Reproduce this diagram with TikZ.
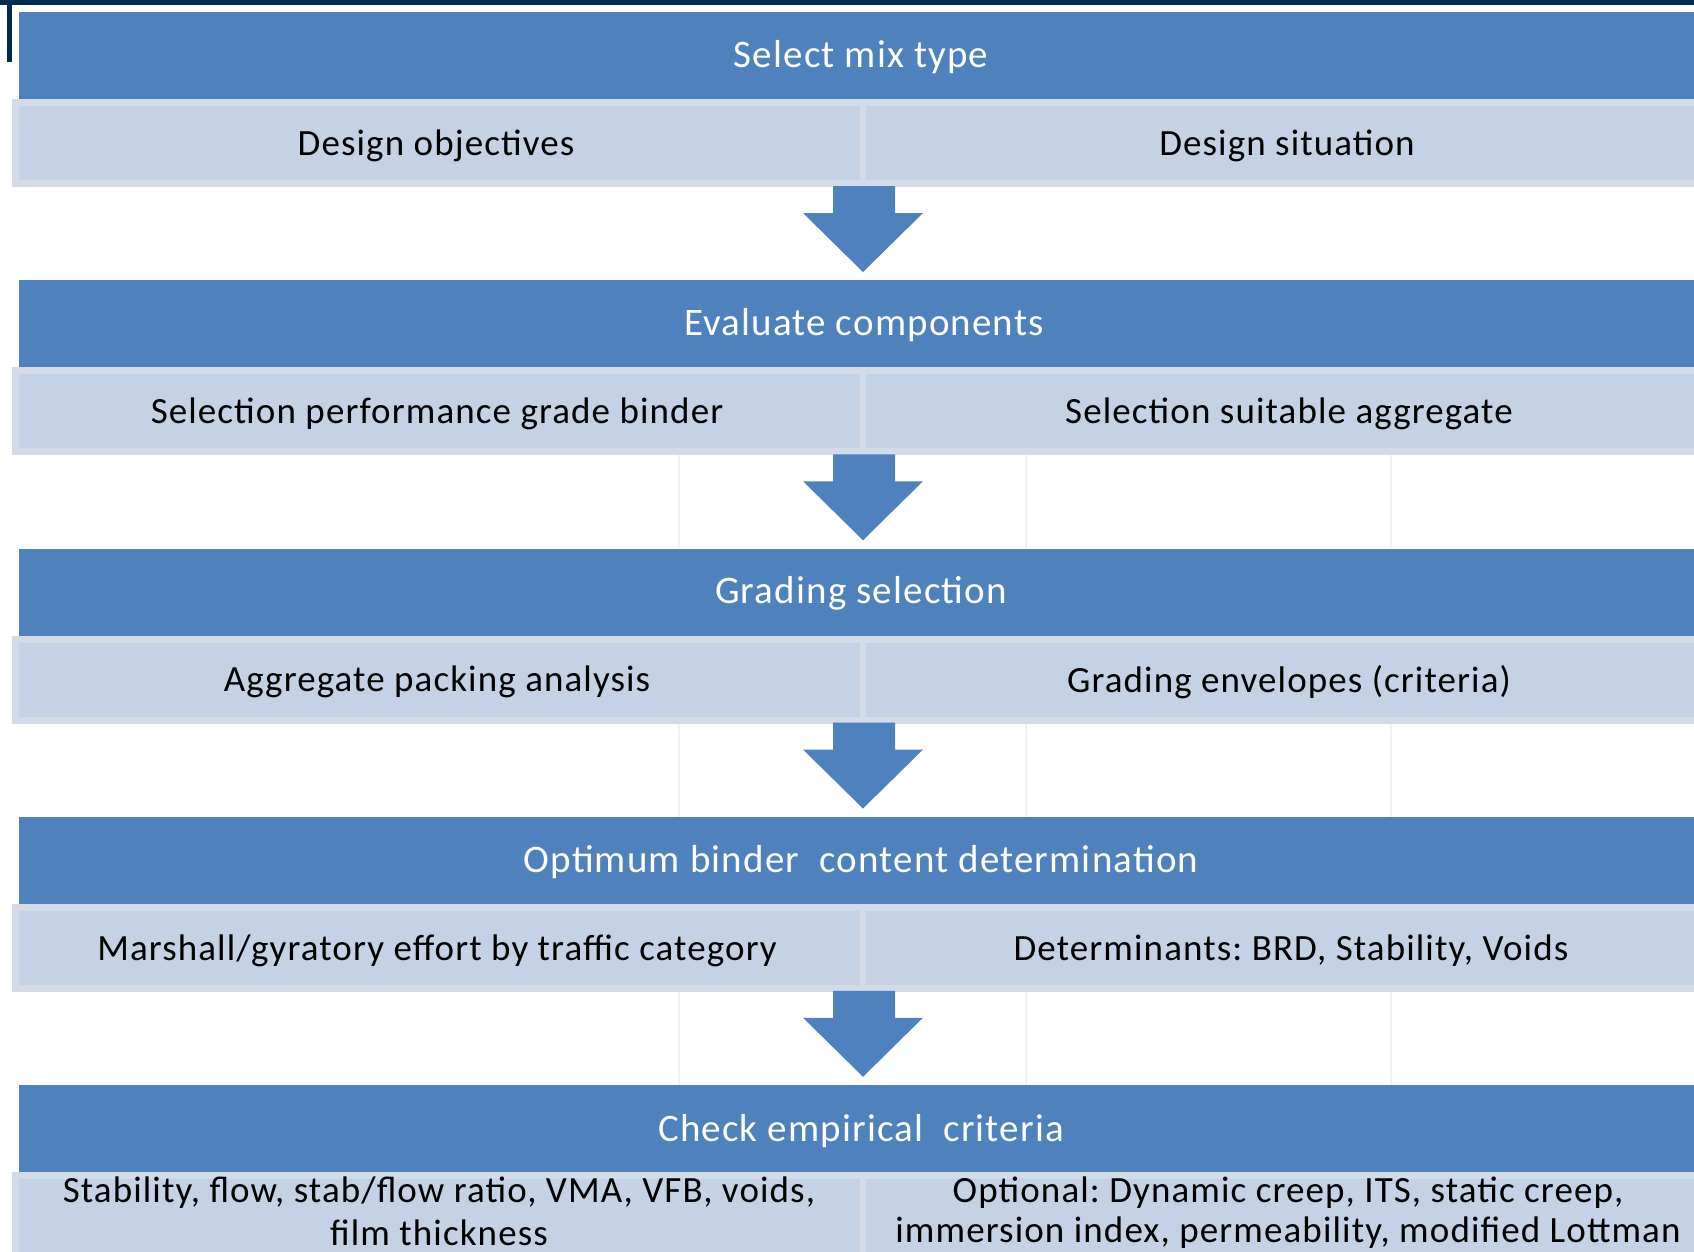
\documentclass[tikz,border=0pt]{standalone}
\usepackage{fontspec}
\setmainfont{Carlito}
\newfontfamily\bodyfont[LetterSpace=3]{Carlito}
\frenchspacing
\definecolor{hdrblue}{HTML}{4F81BD}
\definecolor{cellbg}{HTML}{C5D1E4}
\definecolor{celledge}{HTML}{D3DAE8}
\definecolor{navy}{HTML}{002B50}
\definecolor{faint}{HTML}{F2F2F2}
\tikzset{
  hdrtext/.style={text=white, font=\bodyfont\fontsize{39}{46}\selectfont, anchor=center, inner sep=0pt},
  celltext/.style={text=black, font=\bodyfont\fontsize{37}{44}\selectfont, anchor=center, inner sep=0pt},
  smalltext/.style={text=black, font=\bodyfont\fontsize{37}{44}\selectfont, anchor=center, inner sep=0pt, align=center},
  downarrow/.style={fill=hdrblue, draw=none},
  faintline/.style={draw=faint, line width=1.2pt}
}
\begin{document}
\begin{tikzpicture}[x=1pt,y=-1pt]
\useasboundingbox[fill=white] (0,0) rectangle (1694,1251);
% navy frame
\fill[navy] (0,0) rectangle (1694,5);
\fill[navy] (7,0) rectangle (12,62);
% bands
\foreach \k/\ya in {0/12,1/280.25,2/548.5,3/816.75,4/1085}{
  \fill[hdrblue] (19,\ya) rectangle (1694,\ya+87);
  \fill[celledge] (12,\ya+87) rectangle (1694,\ya+175);
  \fill[cellbg] (19,\ya+94) rectangle (860,\ya+168);
  \fill[cellbg] (866,\ya+94) rectangle (1694,\ya+168);
}
% faint vertical guides
\foreach \ya in {280.25,548.5,816.75}{
  \foreach \xx in {679,1026,1391}{
    \draw[faintline] (\xx,\ya+175) -- (\xx,\ya+268);
  }
}
% arrows
\foreach \ya/\nm in {12/a1,280.25/a2,548.5/a3,816.75/a4}{
  \fill[downarrow] (833,\ya+174) -- (895,\ya+174) -- (895,\ya+201) -- (923,\ya+201)
     -- (863,\ya+260) -- (803,\ya+201) -- (833,\ya+201) -- cycle;
}
% texts
\node[hdrtext] (h1) at (861,57) {Select mix type};
\node[celltext] (l1) at (436,146) {Design objectives};
\node[celltext] (r1) at (1287,146) {Design situation};

\node[hdrtext] (h2) at (864,325) {Evaluate components};
\node[celltext] (l2) at (437,414) {Selection performance grade binder};
\node[celltext] (r2) at (1289,414) {Selection suitable aggregate};

\node[hdrtext] (h3) at (861,593) {Grading selection};
\node[celltext] (l3) at (437,682) {Aggregate packing analysis};
\node[celltext] (r3) at (1289,682) {Grading envelopes (criteria)};

\node[hdrtext] (h4) at (861,862) {Optimum binder\ \ content determination};
\node[celltext] (l4) at (437,951) {Marshall/gyratory effort by traffic category};
\node[celltext] (r4) at (1291,951) {Determinants: BRD, Stability, Voids};

\node[hdrtext] (h5) at (861,1131) {Check empirical\ \ criteria};
\node[smalltext] (l5a) at (439,1193) {Stability, flow, stab/flow ratio, VMA, VFB, voids,};
\node[smalltext] (l5b) at (439,1233) {film thickness};
\node[smalltext] (r5a) at (1288,1193) {Optional: Dynamic creep, ITS, static creep,};
\node[smalltext] (r5b) at (1288,1233) {immersion index, permeability, modified Lottman};
\end{tikzpicture}
\end{document}
